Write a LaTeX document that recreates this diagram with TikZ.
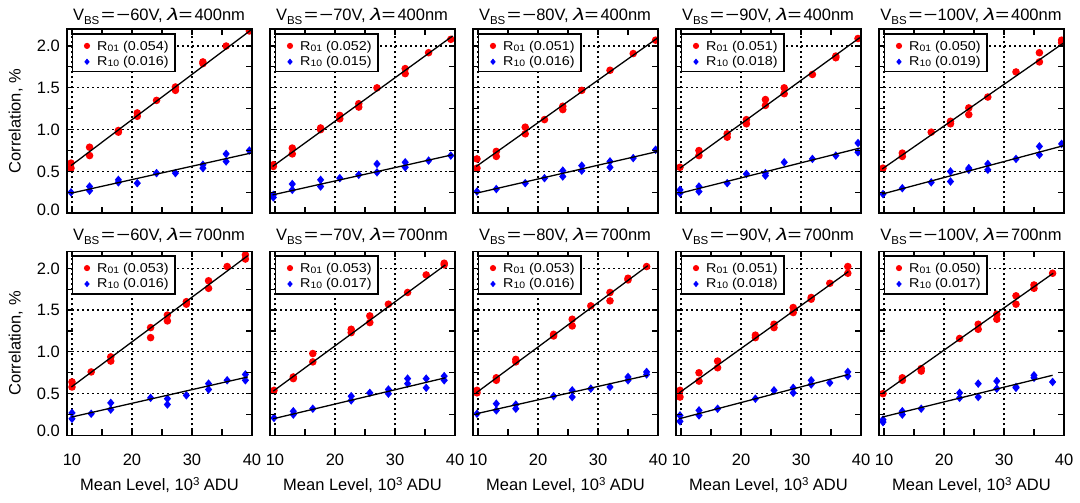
\documentclass[tikz,border=0pt]{standalone}
\usepackage{fontspec}
\setmainfont{Liberation Sans}
\usepackage{graphicx}
\newcommand{\bigf}{\fontsize{16.5}{18}\selectfont}
\newcommand{\legf}{\fontsize{12.8}{15}\selectfont}
\newcommand{\subf}{\fontsize{9.3}{10}\selectfont}
\newcommand{\ttsubf}{\fontsize{11.5}{11}\selectfont}
\newcommand{\wsym}[1]{\scalebox{1.45}[1]{#1}}
\tikzset{
  rmark/.style={fill=red},
  bmark/.style={fill=blue},
  gridl/.style={line width=1.2pt, dash pattern=on 2pt off 3pt},
  tickl/.style={line width=1.1pt},
  framel/.style={line width=1.6pt},
  fitl/.style={line width=1.3pt, black},
  legl/.style={line width=1.6pt, fill=white},
  ticklab/.style={font=\bigf, inner sep=0pt, text height=11.8pt, text depth=0pt},
}
\newcommand{\redpt}[2]{\fill[rmark] (#1,#2) circle (3.8pt);}
\newcommand{\bluept}[2]{\fill[bmark] (#1,#2) +(0,4.3pt) -- +(3.6pt,0) -- +(0,-4.3pt) -- +(-3.6pt,0) -- cycle;}
\newcommand{\axesgrid}{%
  \foreach \gx in {10,20,30} {\draw[gridl] (\gx,0) -- (\gx,2.2);}
  \foreach \gy in {0.5,1.0,1.5,2.0} {\draw[gridl] (9.1667,\gy) -- (40,\gy);}}
\newcommand{\axesframe}{%
  \foreach \gx in {10,15,20,25,30,35} {\draw[tickl] (\gx,0) -- ++(0,6pt); \draw[tickl] (\gx,2.2) -- ++(0,-6pt);}
  \foreach \gy in {0.25,0.5,0.75,1.0,1.25,1.5,1.75,2.0} {\draw[tickl] (9.1667,\gy) -- ++(6pt,0); \draw[tickl] (40,\gy) -- ++(-6pt,0);}
  \draw[framel] (9.1667,0) rectangle (40,2.2);}
% #1 left, #2 bottom (image px), #3 red pts, #4 blue pts, #5 fit lines
\newcommand{\panel}[5]{%
  \begin{scope}[shift={(#1-55,503-#2)},x=6pt,y=83.636pt]
    \axesgrid
    \begin{scope}
      \clip (9.1667,0) rectangle (40,2.2);
      \foreach \px/\py in {#3} {\redpt{\px}{\py}}
      \foreach \px/\py in {#4} {\bluept{\px}{\py}}
      \draw[fitl] #5;
    \end{scope}
    \axesframe
  \end{scope}}
% #1 id, #2 left, #3 top (image px), #4 R01, #5 R10
\newcommand{\legendbox}[5]{%
  \draw[legl] (#2+5.5,503-#3-4.6) rectangle (#2+108,503-#3-42.3);
  \fill[rmark] (#2+20,503-#3-16.6) circle (3.1pt);
  \fill[bmark] (#2+20,503-#3-32.5) +(0,3.2pt) -- +(2.7pt,0) -- +(0,-3.2pt) -- +(-2.7pt,0) -- cycle;
  \node[anchor=base west, inner sep=0pt, font=\legf] (la#1) at (#2+30,503-#3-21) {\scalebox{1.12}[1]{R\raisebox{-1.2pt}{\subf 01} (#4)}};
  \node[anchor=base west, inner sep=0pt, font=\legf] (lb#1) at (#2+30,503-#3-36) {\scalebox{1.12}[1]{R\raisebox{-1.2pt}{\subf 10} (#5)}};}
% #1 id, #2 left, #3 baseline, #4 volts, #5 lambda
\newcommand{\ptitle}[5]{%
  \node[anchor=base, inner sep=0pt, font=\bigf] (t#1) at (#2+92,503-#3) {V\raisebox{-3.5pt}{\ttsubf BS}\kern1.8pt\wsym{=}\kern1.2pt\wsym{−}#4V, \scalebox{1.4}[1.03]{\textit{λ}}\wsym{=}\kern1.9pt#5nm};}
\begin{document}
\begin{tikzpicture}[x=1pt,y=1pt]
\useasboundingbox (0,0) rectangle (1080,503);
\fill[white] (0,0) rectangle (1080,503);

% ---------------- Row 1 (lambda = 400nm) ----------------
\panel{67}{213.3}
 {9.83/0.60,9.83/0.54,12.93/0.79,12.93/0.69,17.73/0.99,17.73/0.97,20.88/1.20,20.88/1.16,24.09/1.35,27.24/1.51,27.24/1.47,31.82/1.81,31.82/1.79,35.69/2.00,39.56/2.18}
 {9.83/0.25,12.93/0.32,12.93/0.27,17.73/0.40,17.73/0.37,20.88/0.36,24.09/0.48,27.24/0.48,31.82/0.58,31.82/0.54,35.69/0.71,35.69/0.62,39.56/0.75}
 {(9.83,0.57)--(39.8,2.19) (9.83,0.24)--(39.8,0.72)}
\panel{270}{213.3}
 {9.72/0.58,9.72/0.56,12.88/0.78,12.88/0.71,17.6/1.02,17.6/1.00,20.8/1.17,20.8/1.13,23.96/1.31,23.96/1.27,27.0/1.50,31.7/1.73,31.7/1.67,35.6/1.92,39.3/2.08}
 {9.72/0.22,9.72/0.19,12.88/0.35,12.88/0.28,17.6/0.40,17.6/0.32,20.8/0.42,23.96/0.46,27.0/0.59,27.0/0.49,31.7/0.61,31.7/0.55,35.6/0.63,39.3/0.69}
 {(9.6,0.56)--(39.6,2.12) (9.6,0.22)--(39.6,0.70)}
\panel{473}{213.3}
 {9.83/0.65,9.83/0.54,13.05/0.74,13.05/0.68,17.87/1.03,17.87/0.95,21.08/1.12,24.13/1.28,24.13/1.24,27.29/1.47,32.0/1.71,35.87/1.91,39.6/2.07}
 {9.83/0.26,13.05/0.29,17.87/0.36,21.08/0.42,24.13/0.51,24.13/0.44,27.29/0.57,27.29/0.51,32.0/0.62,32.0/0.55,35.87/0.66,39.6/0.76}
 {(9.7,0.56)--(40,2.10) (9.7,0.24)--(40,0.74)}
\panel{676}{213.3}
 {9.83/0.55,12.99/0.75,12.99/0.69,17.7/0.95,17.7/0.91,20.9/1.12,20.9/1.07,24.07/1.36,24.07/1.29,27.2/1.50,27.2/1.43,31.9/1.66,35.8/1.88,35.8/1.86,39.5/2.09}
 {9.83/0.28,9.83/0.24,12.99/0.32,12.99/0.26,17.7/0.36,20.9/0.47,24.07/0.48,24.07/0.45,27.2/0.61,31.9/0.65,35.8/0.69,39.5/0.84,39.5/0.73}
 {(9.83,0.54)--(39.8,2.10) (9.83,0.24)--(39.8,0.78)}
\panel{879}{213.3}
 {9.83/0.54,13.05/0.72,13.05/0.68,17.87/0.97,21.08/1.10,21.08/1.07,24.13/1.26,24.13/1.18,27.3/1.39,32.0/1.69,35.9/1.92,35.9/1.81,39.6/2.07,39.6/2.04}
 {9.83/0.23,13.05/0.30,17.87/0.37,21.08/0.50,21.08/0.38,24.13/0.54,24.13/0.52,27.3/0.59,27.3/0.52,32.0/0.65,35.9/0.80,35.9/0.70,39.6/0.83}
 {(9.7,0.53)--(40,2.04) (9.7,0.23)--(40,0.81)}

% ---------------- Row 2 (lambda = 700nm) ----------------
\panel{67}{435.5}
 {10/0.64,10/0.58,13.2/0.76,16.46/0.94,16.46/0.89,23.1/1.29,23.1/1.17,25.9/1.44,25.9/1.37,29.06/1.60,29.06/1.57,32.76/1.85,32.76/1.76,35.86/2.02,38.9/2.16,38.9/2.11}
 {10/0.27,10/0.20,13.2/0.26,16.46/0.39,16.46/0.31,23.1/0.45,25.9/0.44,25.9/0.37,29.06/0.48,32.76/0.62,32.76/0.55,35.86/0.66,38.9/0.73,38.9/0.66}
 {(9.9,0.58)--(39.3,2.15) (9.9,0.22)--(39.3,0.70)}
\panel{270}{435.5}
 {9.83/0.54,13.05/0.70,13.05/0.68,16.3/0.98,16.3/0.88,22.7/1.27,22.7/1.23,25.8/1.43,25.8/1.35,28.9/1.57,32.1/1.71,35.2/1.92,38.2/2.06,38.2/2.04}
 {9.83/0.21,13.05/0.29,13.05/0.25,16.3/0.32,22.7/0.47,22.7/0.42,25.8/0.51,28.9/0.55,28.9/0.50,32.1/0.68,32.1/0.62,35.2/0.68,35.2/0.57,38.2/0.71,38.2/0.66}
 {(9.7,0.53)--(38.4,2.04) (9.7,0.20)--(38.4,0.69)}
\panel{473}{435.5}
 {9.83/0.54,9.83/0.51,13.05/0.69,13.05/0.66,16.3/0.91,16.3/0.88,22.6/1.21,22.6/1.19,25.7/1.39,25.7/1.31,28.8/1.55,32.0/1.71,32.0/1.61,35.0/1.88,35.0/1.86,38.1/2.02}
 {9.83/0.26,13.05/0.38,13.05/0.30,16.3/0.37,16.3/0.32,22.6/0.47,25.7/0.54,25.7/0.46,28.8/0.56,32.0/0.58,35.0/0.70,35.0/0.66,38.1/0.76,38.1/0.73}
 {(9.7,0.51)--(38.3,2.03) (9.7,0.26)--(38.3,0.72)}
\panel{676}{435.5}
 {9.83/0.54,9.83/0.46,13.0/0.75,13.0/0.65,16.1/0.89,16.1/0.81,22.4/1.20,22.4/1.17,25.5/1.33,25.5/1.29,28.7/1.53,28.7/1.47,31.7/1.65,31.7/1.63,34.8/1.82,37.8/2.02,37.8/1.94}
 {9.83/0.24,9.83/0.17,13.0/0.30,13.0/0.24,16.1/0.32,22.4/0.44,25.5/0.54,28.7/0.57,28.7/0.51,31.7/0.66,31.7/0.61,34.8/0.63,37.8/0.76,37.8/0.71}
 {(9.7,0.51)--(37.9,1.96) (9.7,0.20)--(37.9,0.73)}
\panel{879}{435.5}
 {9.83/0.50,13.05/0.69,13.05/0.66,16.2/0.80,16.2/0.77,22.6/1.16,25.7/1.33,25.7/1.27,28.8/1.45,28.8/1.39,32.0/1.67,32.0/1.57,35.0/1.80,35.0/1.76,38.1/1.94}
 {9.83/0.19,9.83/0.16,13.05/0.29,13.05/0.25,16.2/0.32,22.6/0.51,22.6/0.45,25.7/0.62,25.7/0.46,28.8/0.65,28.8/0.56,32.0/0.58,32.0/0.57,35.0/0.72,35.0/0.69,38.1/0.64}
 {(9.7,0.50)--(38.2,1.94) (9.7,0.22)--(38.1,0.72)}

% ---------------- Legends ----------------
\legendbox{a1}{67}{29.3}{0.054}{0.016}
\legendbox{a2}{270}{29.3}{0.052}{0.015}
\legendbox{a3}{473}{29.3}{0.051}{0.016}
\legendbox{a4}{676}{29.3}{0.051}{0.018}
\legendbox{a5}{879}{29.3}{0.050}{0.019}
\legendbox{b1}{67}{251.5}{0.053}{0.016}
\legendbox{b2}{270}{251.5}{0.053}{0.017}
\legendbox{b3}{473}{251.5}{0.053}{0.016}
\legendbox{b4}{676}{251.5}{0.051}{0.018}
\legendbox{b5}{879}{251.5}{0.050}{0.017}

% ---------------- Titles ----------------
\ptitle{a1}{67}{20.7}{60}{400}
\ptitle{a2}{270}{20.7}{70}{400}
\ptitle{a3}{473}{20.7}{80}{400}
\ptitle{a4}{676}{20.7}{90}{400}
\ptitle{a5}{879}{20.7}{100}{400}
\ptitle{b1}{67}{241}{60}{700}
\ptitle{b2}{270}{241}{70}{700}
\ptitle{b3}{473}{241}{80}{700}
\ptitle{b4}{676}{241}{90}{700}
\ptitle{b5}{879}{241}{100}{700}

% ---------------- Y tick labels ----------------
\node[ticklab, anchor=east] (ya0) at (60,503-209.5) {0.0};
\node[ticklab, anchor=east] (ya1) at (60,503-213.3+41.82) {0.5};
\node[ticklab, anchor=east] (ya2) at (60,503-213.3+83.64) {1.0};
\node[ticklab, anchor=east] (ya3) at (60,503-213.3+125.45) {1.5};
\node[ticklab, anchor=east] (ya4) at (60,503-213.3+167.27) {2.0};
\node[ticklab, anchor=east] (yb0) at (60,503-431) {0.0};
\node[ticklab, anchor=east] (yb1) at (60,503-435.5+41.82) {0.5};
\node[ticklab, anchor=east] (yb2) at (60,503-435.5+83.64) {1.0};
\node[ticklab, anchor=east] (yb3) at (60,503-435.5+125.45) {1.5};
\node[ticklab, anchor=east] (yb4) at (60,503-435.5+167.27) {2.0};

% ---------------- Axis titles ----------------
\node[anchor=base, rotate=90, inner sep=0pt, font=\bigf] (yl1) at (20.7,503-121.3) {Correlation, \%};
\node[anchor=base, rotate=90, inner sep=0pt, font=\bigf] (yl2) at (20.7,503-343.5) {Correlation, \%};

\foreach \L in {67,270,473,676,879} {
  \foreach \xv in {10,20,30,40} {
    \node[ticklab, anchor=base] (xt\L-\xv) at (\L+5+6*\xv-60,37) {\xv};
  }
  \node[anchor=base, inner sep=0pt, font=\bigf] (xl\L) at (\L+92.5,12.3) {Mean Level, 10\raisebox{5.5pt}{\ttsubf 3} ADU};
}
\end{tikzpicture}
\end{document}
